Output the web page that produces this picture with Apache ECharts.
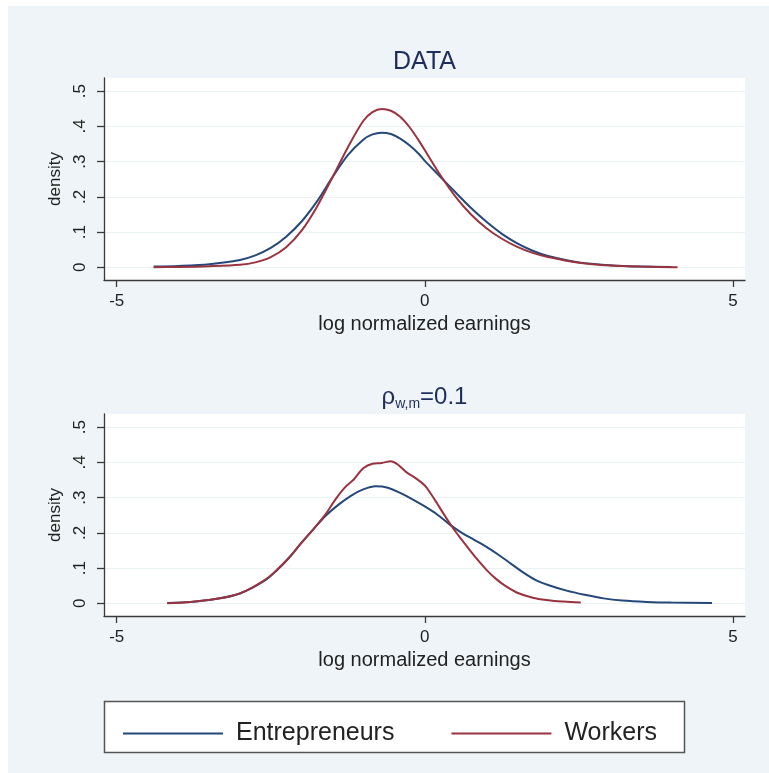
<!DOCTYPE html>
<html><head><meta charset="utf-8">
<script src="https://cdn.jsdelivr.net/npm/echarts@6/dist/echarts.min.js"></script>
<style>
html,body{margin:0;padding:0;background:#fff;}
#bg{position:absolute;left:8px;top:6px;width:761px;height:767px;background:#eef4f7;}
#chart{position:absolute;left:0;top:0;width:769px;height:773px;}
</style></head><body>
<div id="bg"></div><div id="chart"></div>
<script>
// ---- data ----
const seriesNames = ['Entrepreneurs', 'Workers'];
const xAxisTitle = 'log normalized earnings';
const yAxisTitle = 'density';
const xTicks = [-5, 0, 5];
const yTicks = [0, 0.1, 0.2, 0.3, 0.4, 0.5];

// Panel 1: DATA
const dataEntX = [-4.4,-4.0,-3.5,-3.0,-2.75,-2.5,-2.25,-2.0,-1.75,-1.5,-1.25,-1.0,-0.85,-0.7,-0.55,-0.4,-0.25,-0.1,0.0,0.25,0.5,0.75,1.0,1.25,1.5,1.75,2.0,2.5,3.0,3.5,4.0];
const dataEntY = [0.002,0.004,0.009,0.021,0.034,0.055,0.087,0.13,0.187,0.255,0.318,0.362,0.377,0.382,0.378,0.365,0.346,0.322,0.302,0.257,0.212,0.168,0.129,0.095,0.068,0.047,0.032,0.014,0.006,0.002,0.001];
const dataWrkX = [-4.4,-4.0,-3.5,-3.0,-2.75,-2.5,-2.25,-2.0,-1.75,-1.5,-1.25,-1.0,-0.85,-0.7,-0.55,-0.4,-0.25,-0.1,0.05,0.25,0.5,0.75,1.0,1.25,1.5,1.75,2.0,2.5,3.0,3.5,4.1];
const dataWrkY = [0.0005,0.001,0.003,0.007,0.014,0.029,0.057,0.104,0.172,0.255,0.34,0.415,0.44,0.449,0.444,0.427,0.398,0.36,0.318,0.262,0.2,0.15,0.111,0.081,0.058,0.041,0.029,0.013,0.005,0.002,0.0005];

// Panel 2: rho_{w,m} = 0.1
const simEntX = [-4.18,-3.8,-3.4,-3.0,-2.6,-2.4,-2.2,-2.0,-1.8,-1.6,-1.4,-1.2,-1.0,-0.8,-0.6,-0.4,-0.2,0.0,0.2,0.4,0.6,0.8,1.0,1.2,1.4,1.6,1.8,2.0,2.3,2.6,2.9,3.2,3.6,4.0,4.66];
const simEntY = [0.001,0.004,0.012,0.028,0.064,0.094,0.13,0.172,0.212,0.25,0.28,0.305,0.323,0.332,0.328,0.313,0.295,0.275,0.252,0.224,0.2,0.18,0.16,0.137,0.112,0.087,0.066,0.052,0.036,0.024,0.014,0.008,0.004,0.002,0.001];
const simWrkX = [-4.18,-3.8,-3.4,-3.0,-2.6,-2.4,-2.2,-2.0,-1.8,-1.6,-1.45,-1.3,-1.15,-1.0,-0.85,-0.7,-0.55,-0.45,-0.3,-0.15,0.0,0.1,0.2,0.3,0.45,0.6,0.8,1.0,1.15,1.3,1.5,1.75,2.0,2.25,2.53];
const simWrkY = [0.0,0.004,0.012,0.028,0.066,0.095,0.13,0.172,0.212,0.255,0.295,0.328,0.352,0.383,0.396,0.398,0.403,0.395,0.372,0.355,0.334,0.31,0.283,0.255,0.215,0.18,0.135,0.095,0.07,0.05,0.03,0.016,0.009,0.005,0.002];

// ---- chart ----
const FF = '"Liberation Sans", Arial, Helvetica, sans-serif';
const BLUE = '#24487a', RED = '#9a3340';
const AX = '#3a3a3a';
const pair = (xs, ys) => xs.map((x, i) => [x, ys[i]]);
const fmtY = v => v === 0 ? '0' : String(v).replace(/^0/, '');

function xAx(gi) {
  return {
    type: 'value', gridIndex: gi, min: -5.206, max: 5.195,
    name: xAxisTitle, nameLocation: 'middle', nameGap: 34,
    nameTextStyle: { fontSize: 20, color: '#222', fontFamily: FF },
    axisLine: { show: true, onZero: false, lineStyle: { color: AX, width: 1.3 } },
    axisTick: { show: true, customValues: xTicks, length: 7, lineStyle: { color: AX, width: 1.3 } },
    axisLabel: { customValues: xTicks, fontSize: 17, color: '#222', margin: 13, fontFamily: FF },
    splitLine: { show: false }
  };
}
function yAx(gi) {
  return {
    type: 'value', gridIndex: gi, min: -0.036, max: 0.537,
    name: yAxisTitle, nameLocation: 'middle', nameGap: 34, nameRotate: 90,
    nameTextStyle: { fontSize: 17, color: '#222', fontFamily: FF },
    axisLine: { show: true, onZero: false, lineStyle: { color: AX, width: 1.3 } },
    axisTick: { show: true, customValues: yTicks, length: 7, lineStyle: { color: AX, width: 1.3 } },
    axisLabel: { customValues: yTicks, rotate: 90, fontSize: 17, color: '#222', margin: 15, fontFamily: FF, formatter: fmtY },
    splitLine: { show: true, lineStyle: { color: '#eaf2f3', width: 1 } }
  };
}
function ser(name, gi, data, color, sm) {
  return {
    type: 'line', name: name, xAxisIndex: gi, yAxisIndex: gi, data: data,
    showSymbol: false, symbol: 'none', smooth: sm,
    lineStyle: { color: color, width: 2 }, itemStyle: { color: color },
    animation: false
  };
}

const chart = echarts.init(document.getElementById('chart'));
chart.setOption({
  backgroundColor: 'transparent',
  animation: false,
  textStyle: { fontFamily: FF },
  grid: [
    { left: 104, top: 78, width: 641, height: 202, show: true, backgroundColor: '#fff', borderWidth: 0 },
    { left: 104, top: 414, width: 641, height: 202, show: true, backgroundColor: '#fff', borderWidth: 0 }
  ],
  xAxis: [xAx(0), xAx(1)],
  yAxis: [yAx(0), yAx(1)],
  legend: {
    data: seriesNames, left: 118, top: 716, icon: 'rect', itemWidth: 100, itemHeight: 2, itemGap: 57,
    textStyle: { fontSize: 25, color: '#222', fontFamily: FF, padding: [0, 0, 0, 8] }
  },
  graphic: [
    { type: 'rect', shape: { x: 104.5, y: 701.5, width: 580, height: 51 }, style: { fill: '#fff', stroke: '#555', lineWidth: 1.5 }, z: -1, silent: true },
    { type: 'text', x: 424.5, y: 62, style: { text: 'DATA', font: '25px ' + FF, fill: '#1f2d5c', textAlign: 'center', textVerticalAlign: 'middle' }, silent: true },
    { type: 'text', x: 424.5, y: 398, style: {
        text: '{a|ρ}{b|w,m}{a|=0.1}', textAlign: 'center', textVerticalAlign: 'middle', fill: '#1f2d5c',
        rich: {
          a: { fontSize: 24, fontFamily: FF, fill: '#1f2d5c', verticalAlign: 'bottom', padding: [0, 0, 2, 0] },
          b: { fontSize: 14, fontFamily: FF, fill: '#1f2d5c', verticalAlign: 'bottom' }
        } }, silent: true }
  ],
  series: [
    ser(seriesNames[0], 0, pair(dataEntX, dataEntY), BLUE, 0.3),
    ser(seriesNames[1], 0, pair(dataWrkX, dataWrkY), RED, 0.3),
    ser(seriesNames[0], 1, pair(simEntX, simEntY), BLUE, 0.35),
    ser(seriesNames[1], 1, pair(simWrkX, simWrkY), RED, 0.35)
  ]
});
</script>
</body></html>
